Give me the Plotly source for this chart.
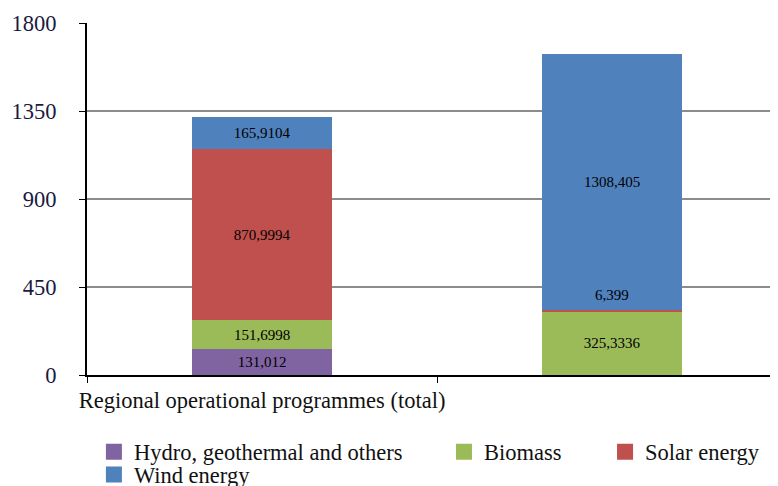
import plotly.graph_objects as go

categories = ["Regional operational programmes (total)", " "]
hydro = [131.012, 0]
biomass = [151.6998, 325.3336]
solar = [870.9994, 6.399]
wind = [165.9104, 1308.405]

hydro_txt = ["131,012", ""]
biomass_txt = ["151,6998", "325,3336"]
solar_txt = ["870,9994", ""]
wind_txt = ["165,9104", "1308,405"]
solar_small_label = "6,399"

y_ticks = [0, 450, 900, 1350, 1800]

colors = {"hydro": "#8064A2", "biomass": "#9BBB59", "solar": "#C0504D", "wind": "#4F81BD"}
serif = "Liberation Serif, Times New Roman, serif"

fig = go.Figure()
series = [
    ("Hydro, geothermal and others", hydro, hydro_txt, colors["hydro"], "legend"),
    ("Biomass", biomass, biomass_txt, colors["biomass"], "legend2"),
    ("Solar energy", solar, solar_txt, colors["solar"], "legend3"),
    ("Wind energy", wind, wind_txt, colors["wind"], "legend4"),
]
for name, vals, txt, col, lg in series:
    fig.add_trace(go.Bar(
        x=categories, y=vals, name=name, text=txt, showlegend=False,
        marker=dict(color=col, line=dict(width=0)),
        width=0.4, textposition="inside", insidetextanchor="middle",
        textangle=0, constraintext="none",
        textfont=dict(family=serif, size=15, color="black"),
        hoverinfo="skip",
    ))
# legend entries with larger square keys
for name, vals, txt, col, lg in series:
    fig.add_trace(go.Scatter(
        x=[None], y=[None], mode="markers", name=name, legend=lg, showlegend=True,
        marker=dict(symbol="square", size=16, color=col, line=dict(width=0)),
        hoverinfo="skip",
    ))

# label for the tiny solar segment in the second bar
base2 = hydro[1] + biomass[1] + solar[1]
fig.add_annotation(x=categories[1], y=base2, text=solar_small_label, showarrow=False,
                   yshift=15, font=dict(family=serif, size=15, color="black"))

legend_font = dict(family=serif, size=22.5, color="#111")
def lg(x, y):
    return dict(orientation="h", x=x, xanchor="left", y=y, yanchor="middle",
                font=legend_font, itemwidth=30, bgcolor="rgba(0,0,0,0)")

fig.update_layout(
    barmode="stack",
    width=770, height=478,
    margin=dict(l=79, r=0, t=15, b=111, autoexpand=False),
    plot_bgcolor="white", paper_bgcolor="white",
    showlegend=True,
    legend=lg(0.01, -0.219),
    legend2=lg(0.5166, -0.219),
    legend3=lg(0.7497, -0.219),
    legend4=lg(0.01, -0.284),
    bargap=0,
)
fig.update_xaxes(
    type="category", range=[-0.5, 1.474], automargin=False,
    showline=True, linecolor="black", linewidth=2,
    ticks="outside", tickson="boundaries", ticklen=6, tickcolor="black",
    ticklabelstandoff=4, tickangle=0,
    tickfont=dict(family=serif, size=22.5, color="#111"),
    showgrid=False,
)
fig.update_yaxes(
    range=[0, 1800], tickvals=y_ticks, ticktext=[str(v) for v in y_ticks],
    automargin=False,
    showline=True, linecolor="black", linewidth=2,
    ticks="outside", ticklen=6, tickcolor="black",
    ticklabelstandoff=18,
    showgrid=True, gridcolor="#8c8c8c", gridwidth=1.5,
    tickfont=dict(family=serif, size=22.5, color="#1a1a40"),
    zeroline=False,
)
fig.write_html("out.html")
